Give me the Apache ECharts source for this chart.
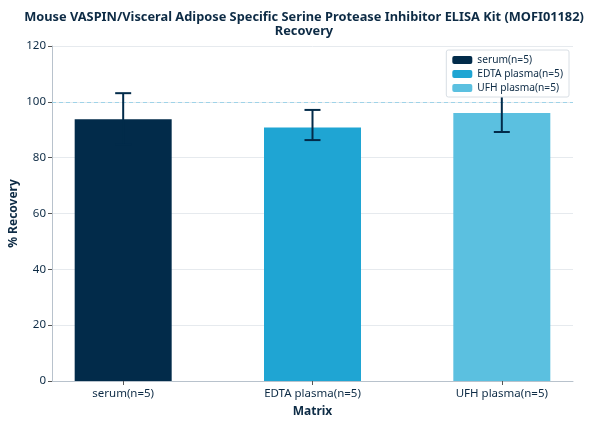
<!DOCTYPE html>
<html><head><meta charset="utf-8">
<script src="https://cdn.jsdelivr.net/npm/echarts@6/dist/echarts.min.js"></script>
<style>html,body{margin:0;padding:0;background:#fff}#c{width:608px;height:425px}</style>
</head><body><div id="c"></div>
<script>
const categories = ['serum(n=5)', 'EDTA plasma(n=5)', 'UFH plasma(n=5)'];
const recoveryMean = [93.8, 90.8, 96.0];
const errorLow = [84.6, 86.3, 89.2];
const errorHigh = [103.1, 97.1, 102.8];
const yTicks = [0, 20, 40, 60, 80, 100, 120];
const referenceValue = 100;
const colors = ['#022b4a', '#1fa5d3', '#5bc0e0'];
const textColor = '#0d2b45';
const font = 'Noto Sans';

const chart = echarts.init(document.getElementById('c'));
const positions = categories.map((_, i) => i);
const barSeries = categories.map((name, i) => ({
  name: name,
  type: 'bar',
  barWidth: 97,
  barGap: '-100%',
  data: [[i, recoveryMean[i]]],
  itemStyle: { color: colors[i] },
  emphasis: { disabled: true },
  markLine: i === 0 ? {
    silent: true, symbol: 'none', label: { show: false },
    lineStyle: { type: [4, 3], color: '#9fd3e8', width: 1.2 },
    data: [{ yAxis: referenceValue }]
  } : undefined
}));
const errSeries = {
  type: 'custom',
  z: 5,
  data: categories.map((_, i) => [i, errorLow[i], errorHigh[i]]),
  renderItem: function (params, api) {
    const x = api.value(0);
    const lo = api.coord([x, api.value(1)]);
    const hi = api.coord([x, api.value(2)]);
    const hw = 8;
    const style = { stroke: colors[0], lineWidth: 2, fill: null };
    return { type: 'group', children: [
      { type: 'line', shape: { x1: lo[0], y1: lo[1], x2: hi[0], y2: hi[1] }, style: style },
      { type: 'line', shape: { x1: lo[0] - hw, y1: lo[1], x2: lo[0] + hw, y2: lo[1] }, style: style },
      { type: 'line', shape: { x1: hi[0] - hw, y1: hi[1], x2: hi[0] + hw, y2: hi[1] }, style: style }
    ]};
  }
};
chart.setOption({
  animation: false,
  textStyle: { fontFamily: font, color: textColor },
  title: {
    text: 'Mouse VASPIN/Visceral Adipose Specific Serine Protease Inhibitor ELISA Kit (MOFI01182)\nRecovery',
    left: 'center', top: 5,
    textStyle: { fontFamily: font, fontSize: 12.8, fontWeight: 'bold', color: textColor, lineHeight: 14 }
  },
  legend: {
    data: categories,
    orient: 'vertical',
    right: 39, top: 50,
    itemWidth: 20, itemHeight: 8, itemGap: 4,
    padding: [5, 6, 4, 6],
    backgroundColor: '#fff', borderColor: '#d8dee4', borderWidth: 1, borderRadius: 2,
    textStyle: { fontFamily: font, fontSize: 10.2, color: textColor },
    selectedMode: false, z: 10
  },
  grid: { left: 52, right: 35, top: 46, bottom: 44, outerBoundsMode: 'none', containLabel: false },
  xAxis: {
    type: 'value', min: -0.376, max: 2.376,
    name: 'Matrix', nameLocation: 'middle', nameGap: 25, nameMoveOverlap: false,
    nameTextStyle: { fontFamily: font, fontSize: 12, fontWeight: 'bold', color: textColor },
    splitLine: { show: false },
    axisLine: { show: true, onZero: false, lineStyle: { color: '#b8c2cc' } },
    axisTick: { show: true, customValues: positions, length: 4, lineStyle: { color: '#555' } },
    axisLabel: { customValues: positions, formatter: v => categories[Math.round(v)], fontFamily: font, fontSize: 11.5, color: textColor, margin: 7 }
  },
  yAxis: {
    type: 'value', min: yTicks[0], max: yTicks[yTicks.length - 1], interval: 20,
    name: '% Recovery', nameLocation: 'middle', nameGap: 32, nameMoveOverlap: false,
    nameTextStyle: { fontFamily: font, fontSize: 12, fontWeight: 'bold', color: textColor },
    axisLine: { show: true, onZero: false, lineStyle: { color: '#b8c2cc' } },
    axisTick: { show: true, length: 4, lineStyle: { color: '#555' } },
    axisLabel: { fontFamily: font, fontSize: 11.5, color: textColor, margin: 6 },
    splitLine: { lineStyle: { color: '#e6eaee' } }
  },
  series: [...barSeries, errSeries]
});
</script></body></html>
